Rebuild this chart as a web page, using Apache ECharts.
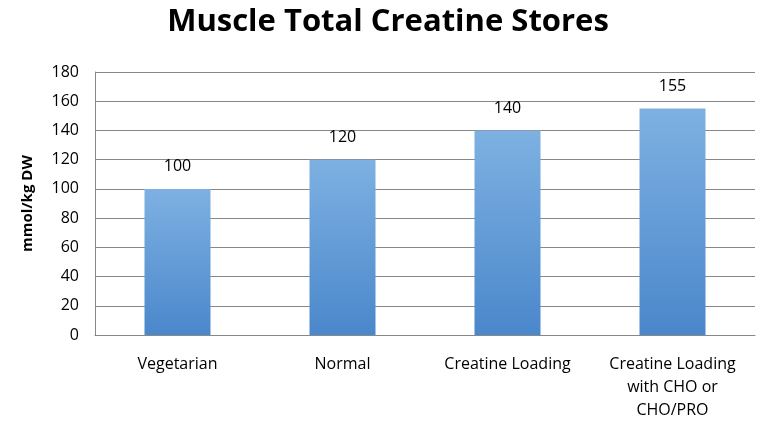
<!DOCTYPE html><html><head><meta charset="utf-8"><script src="https://cdn.jsdelivr.net/npm/echarts@6/dist/echarts.min.js"></script></head><body style="margin:0"><div id="c" style="width:768px;height:436px"></div><script>
const categories=["Vegetarian","Normal","Creatine Loading","Creatine Loading\nwith CHO or\nCHO/PRO"];
const values=[100,120,140,155];
const ch=echarts.init(document.getElementById('c'));
ch.setOption({
 title:{text:"Muscle Total Creatine Stores",left:383,textAlign:'center',top:2,textStyle:{fontFamily:'Open Sans',fontSize:31,fontWeight:'bold',color:'#000'}},
 grid:{left:95,right:13,top:72,bottom:101},
 xAxis:{type:'category',data:categories,axisTick:{show:false},axisLine:{lineStyle:{color:'#888'}},axisLabel:{color:'#000',fontSize:16,fontFamily:'Open Sans',margin:18,lineHeight:23,verticalAlign:'top'}},
 yAxis:{type:'value',min:0,max:180,interval:20,name:'mmol/kg DW',nameLocation:'middle',nameGap:60,nameTextStyle:{fontSize:15,fontWeight:'bold',color:'#000',fontFamily:'Open Sans'},axisLine:{show:true,lineStyle:{color:'#888'}},axisLabel:{color:'#000',fontSize:16,fontFamily:'Open Sans',margin:16},splitLine:{lineStyle:{color:'#888'}}},
 series:[{type:'bar',data:values,barWidth:'40%',label:{show:true,position:'top',distance:14,fontSize:16,color:'#000',fontFamily:'Open Sans'},itemStyle:{color:new echarts.graphic.LinearGradient(0,0,0,1,[{offset:0,color:'#7eb1e2'},{offset:1,color:'#4a87cb'}])}}]
});
</script></body></html>
